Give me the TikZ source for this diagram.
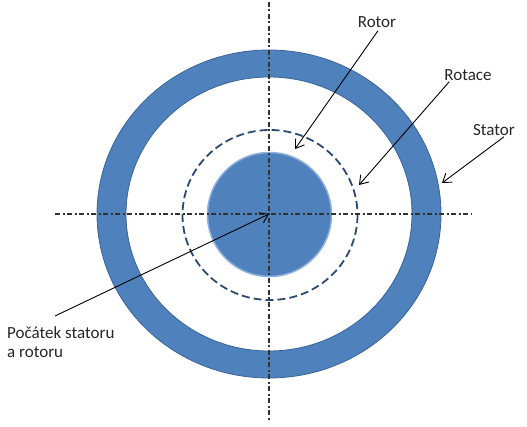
\documentclass[tikz,border=0pt]{standalone}
\usepackage{fontspec}
\setmainfont{Carlito}
\usepackage{xcolor}
\usetikzlibrary{positioning,arrows.meta}

\definecolor{ringblue}{HTML}{4F81BD}
\definecolor{ringedge}{HTML}{3A6496}
\definecolor{rotoredge}{HTML}{8DB0DC}
\definecolor{dashblue}{HTML}{2A4A72}

\begin{document}
\begin{tikzpicture}[x=1pt, y=-1pt, font=\fontsize{17}{19}\selectfont,
    label/.style={inner sep=1pt, text=black!85},
    pointer/.style={-{Straight Barb[length=8pt,width=11pt]}, line width=0.9pt, black},
    axisline/.style={line width=2.4pt, black!80, dash pattern=on 5pt off 2.5pt on 2pt off 2.5pt}]

\useasboundingbox (0,0) rectangle (527,427);

% Stator ring
\fill[ringblue, even odd rule, draw=ringedge, line width=0.8pt]
    (269,214) ellipse [x radius=172, y radius=164]
    (269,214) ellipse [x radius=143, y radius=137];

% Rotor and rotation path
\fill[ringblue, draw=rotoredge, line width=1.5pt] (269.5,214.5) circle (62);
\draw[dashblue, line width=1.8pt, dash pattern=on 8pt off 4pt] (270,215) ellipse [x radius=87.5, y radius=85];

% Axes
\coordinate (origin) at (269,214);
\coordinate (axW) at (55,214);
\coordinate (axE) at (472,214);
\coordinate (axN) at (269,2);
\coordinate (axS) at (269,422);
\draw[axisline] (axW) -- (axE);
\draw[axisline] (axN) -- (axS);

% Nodes
\node (rotor) [label] at (377,22) {Rotor};
\node (rotace) [label] at (468,75) {Rotace};
\node (stator) [label] at (494,130) {Stator};
\node (pocatek) [label, anchor=north west, align=left] at (6,325) {Počátek statoru\\a rotoru};

\coordinate (rotorpt) at (295,149);
\coordinate (rotacept) at (359,185);
\coordinate (statorpt) at (442,183);

% Arrows
\draw[pointer] (rotor.south) ++(1,2) -- (rotorpt);
\draw[pointer] (rotace.south west) ++(6,0) -- (rotacept);
\draw[pointer] (stator.south) ++(10,0) -- (statorpt);
\draw[pointer] (55,316) -- (origin);

\end{tikzpicture}
\end{document}
